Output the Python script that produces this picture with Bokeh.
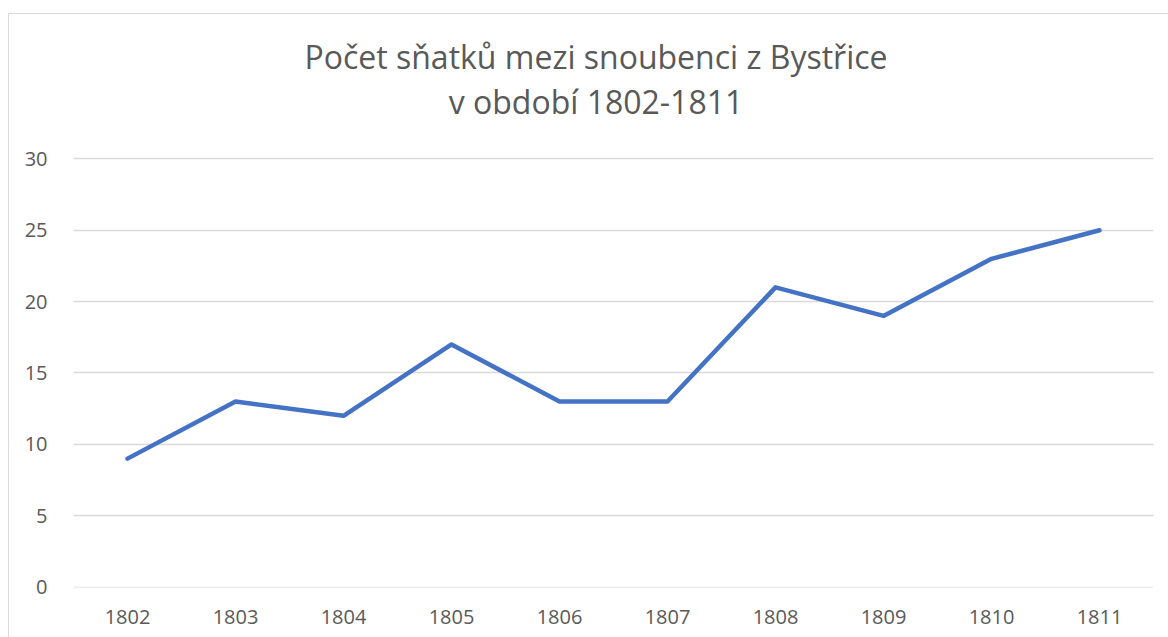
from bokeh.plotting import figure
from bokeh.models import Range1d, Label
from bokeh.embed import file_html
from bokeh.resources import INLINE

years = ["1802", "1803", "1804", "1805", "1806", "1807", "1808", "1809", "1810", "1811"]
counts = [9, 13, 12, 17, 13, 13, 21, 19, 23, 25]
y_ticks = [0, 5, 10, 15, 20, 25, 30]
title_line1 = "Počet sňatků mezi snoubenci z Bystřice"
title_line2 = "v období 1802-1811"

FONT = "Open Sans"
TXT = "#595959"

# frame spans the full height; the upper part (above 30) holds the title
p = figure(x_range=years, y_range=Range1d(-0.03, 40.12), width=1160, height=624,
           output_backend="svg", toolbar_location=None,
           min_border_left=64, min_border_right=16, min_border_top=0, min_border_bottom=51)
p.styles = {"margin-left": "8px", "margin-top": "13px",
            "border-left": "1.5px solid #d9d9d9", "border-top": "1.5px solid #d9d9d9"}

p.line(years, counts, line_color="#4472C4", line_width=4.5, line_join="round", line_cap="round")

p.outline_line_color = None
p.background_fill_color = "white"
p.border_fill_color = "white"

p.xgrid.grid_line_color = None
p.ygrid.grid_line_color = "#d9d9d9"
p.ygrid.grid_line_width = 1.5
p.yaxis.ticker = y_ticks

for ax in (p.xaxis[0], p.yaxis[0]):
    ax.axis_line_color = None
    ax.major_tick_line_color = None
    ax.minor_tick_line_color = None
    ax.major_label_text_color = TXT
    ax.major_label_text_font = FONT
    ax.major_label_text_font_size = "20px"
p.yaxis.major_label_standoff = 20
p.xaxis.major_label_standoff = 16

for txt, yy in ((title_line1, 37.18), (title_line2, 34.05)):
    p.add_layout(Label(x=4.838, y=yy, text=txt, text_align="center",
                       text_baseline="alphabetic", text_font=FONT,
                       text_font_size="32px", text_color=TXT))

open("out.html", "w").write(file_html(p, INLINE))
